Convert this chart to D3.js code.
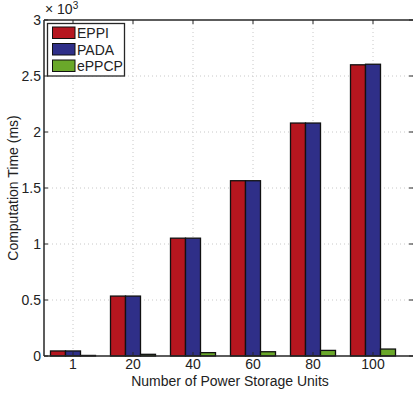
<!DOCTYPE html>
<html><head><meta charset="utf-8">
<script src="https://cdn.jsdelivr.net/npm/d3@7"></script>
<style>body{margin:0;background:#fff}svg{display:block}text{font-family:"Liberation Sans",Arial,sans-serif;fill:#222}</style>
</head><body>
<script>
const categories = ["1","20","40","60","80","100"];
const seriesNames = ["EPPI","PADA","ePPCP"];
const eppi  = [0.045, 0.535, 1.052, 1.565, 2.08, 2.60];
const pada  = [0.045, 0.535, 1.052, 1.565, 2.08, 2.605];
const eppcp = [0.005, 0.015, 0.030, 0.038, 0.050, 0.062];
const yTicks = [0, 0.5, 1, 1.5, 2, 2.5, 3];
const yTickLabels = ["0","0.5","1","1.5","2","2.5","3"];
const colors = ["#b5161f", "#2f2f88", "#6aa82a"];

const W = 414, H = 393;
const L = 44, R = 413, T = 20, B = 356;
const FS = 14;
const svg = d3.select("body").append("svg").attr("width", W).attr("height", H);

const xs = d3.scaleLinear().domain([0, 5]).range([73, 373]);
const y = d3.scaleLinear().domain([0, 3]).range([B, T]);

const g = svg.append("g");
// grid
g.selectAll(".vg").data(categories).enter().append("line")
  .attr("x1", (d,i)=>xs(i)).attr("x2", (d,i)=>xs(i)).attr("y1", T).attr("y2", B)
  .attr("stroke", "#c8c8c8").attr("stroke-dasharray", "1,3");
g.selectAll(".hg").data(yTicks.slice(1, -1)).enter().append("line")
  .attr("x1", L).attr("x2", R).attr("y1", d=>y(d)).attr("y2", d=>y(d))
  .attr("stroke", "#c8c8c8").attr("stroke-dasharray", "1,3");

// bars
const bw = 15;
const series = [eppi, pada, eppcp];
series.forEach((vals, s) => {
  g.selectAll(".b"+s).data(vals).enter().append("rect")
    .attr("x", (d,i)=>xs(i) - 1.5*bw + s*bw)
    .attr("width", bw)
    .attr("y", d=>y(d))
    .attr("height", d=>B - y(d))
    .attr("fill", colors[s]).attr("stroke", "#111").attr("stroke-width", 1.3);
});

// axes box
const ax = svg.append("g").attr("stroke", "#262626").attr("fill", "none");
ax.append("line").attr("x1", L).attr("x2", R).attr("y1", T).attr("y2", T).attr("stroke-width", 1.5);
ax.append("line").attr("x1", L).attr("x2", R).attr("y1", B).attr("y2", B).attr("stroke-width", 1.5);
ax.append("line").attr("x1", L).attr("x2", L).attr("y1", T).attr("y2", B).attr("stroke-width", 1.5);
// ticks
yTicks.forEach(t => {
  ax.append("line").attr("x1", L).attr("x2", L+4).attr("y1", y(t)).attr("y2", y(t));
  ax.append("line").attr("x1", R-4).attr("x2", R).attr("y1", y(t)).attr("y2", y(t));
});
categories.forEach((c,i) => {
  ax.append("line").attr("x1", xs(i)).attr("x2", xs(i)).attr("y1", B).attr("y2", B-4);
  ax.append("line").attr("x1", xs(i)).attr("x2", xs(i)).attr("y1", T).attr("y2", T+4);
});

// tick labels
svg.selectAll(".yl").data(yTicks).enter().append("text")
  .attr("x", L - 3).attr("y", d=>y(d) + 5).attr("text-anchor", "end")
  .attr("font-size", FS).text((d,i)=>yTickLabels[i]);
svg.selectAll(".xl").data(categories).enter().append("text")
  .attr("x", (d,i)=>xs(i)).attr("y", 369).attr("text-anchor", "middle")
  .attr("font-size", FS).text(d=>d);

// exponent
const ex = svg.append("text").attr("x", 45).attr("y", 14).attr("font-size", FS);
ex.append("tspan").text("\u00d7 10");
ex.append("tspan").attr("dy", -5).attr("font-size", 10).text("3");

// titles
svg.append("text").attr("x", 230).attr("y", 385.5).attr("text-anchor", "middle")
  .attr("font-size", FS).text("Number of Power Storage Units");
svg.append("text").attr("transform", "translate(18," + ((T+B)/2) + ") rotate(-90)")
  .attr("text-anchor", "middle").attr("font-size", FS).text("Computation Time (ms)");

// legend
const lg = svg.append("g");
lg.append("rect").attr("x", 47.5).attr("y", 23.5).attr("width", 77).attr("height", 52.5)
  .attr("fill", "#fff").attr("stroke", "#262626").attr("stroke-width", 1.3);
seriesNames.forEach((n, s) => {
  const yy = 27 + s * 16.5;
  lg.append("rect").attr("x", 52.5).attr("y", yy).attr("width", 22.5).attr("height", 11.5)
    .attr("fill", colors[s]).attr("stroke", "#111").attr("stroke-width", 1);
  lg.append("text").attr("x", 77).attr("y", yy + 11).attr("font-size", FS).text(n);
});
</script>
</body></html>
